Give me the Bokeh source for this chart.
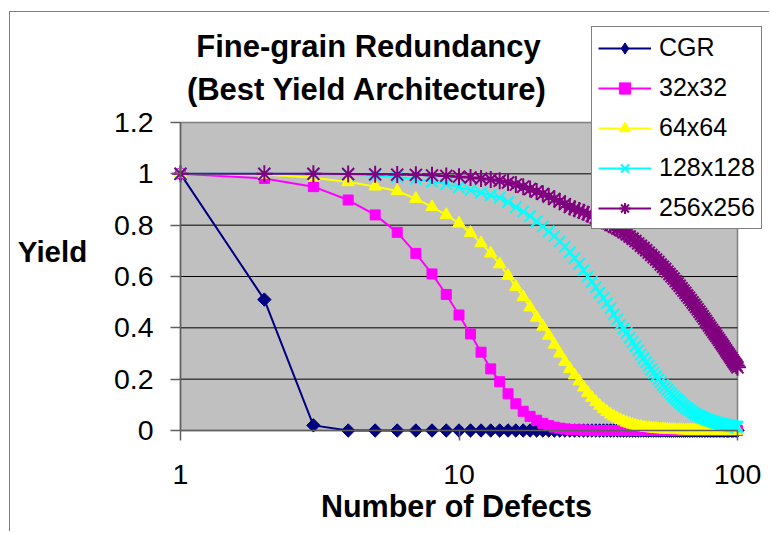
import math
from bokeh.plotting import figure
from bokeh.models import Range1d, FixedTicker, Label, Legend, LegendItem
from bokeh.embed import file_html
from bokeh.resources import INLINE

# ---------------- data ----------------
defects = list(range(1, 101))

cgr = [1.0, 0.51, 0.02, 0.0, 0.0, 0.0, 0.0, 0.0, 0.0, 0.0,
       0.0, 0.0, 0.0, 0.0, 0.0, 0.0, 0.0, 0.0, 0.0, 0.0,
       0.0, 0.0, 0.0, 0.0, 0.0, 0.0, 0.0, 0.0, 0.0, 0.0,
       0.0, 0.0, 0.0, 0.0, 0.0, 0.0, 0.0, 0.0, 0.0, 0.0,
       0.0, 0.0, 0.0, 0.0, 0.0, 0.0, 0.0, 0.0, 0.0, 0.0,
       0.0, 0.0, 0.0, 0.0, 0.0, 0.0, 0.0, 0.0, 0.0, 0.0,
       0.0, 0.0, 0.0, 0.0, 0.0, 0.0, 0.0, 0.0, 0.0, 0.0,
       0.0, 0.0, 0.0, 0.0, 0.0, 0.0, 0.0, 0.0, 0.0, 0.0,
       0.0, 0.0, 0.0, 0.0, 0.0, 0.0, 0.0, 0.0, 0.0, 0.0,
       0.0, 0.0, 0.0, 0.0, 0.0, 0.0, 0.0, 0.0, 0.0, 0.0]

r32 = [1.0, 0.982, 0.95, 0.898, 0.84, 0.772, 0.69, 0.61, 0.53, 0.45,
       0.376, 0.305, 0.24, 0.19, 0.143, 0.104, 0.075, 0.055, 0.04, 0.028,
       0.019, 0.013, 0.009, 0.006, 0.004, 0.003, 0.002, 0.001, 0.001, 0.0,
       0.0, 0.0, 0.0, 0.0, 0.0, 0.0, 0.0, 0.0, 0.0, 0.0,
       0.0, 0.0, 0.0, 0.0, 0.0, 0.0, 0.0, 0.0, 0.0, 0.0,
       0.0, 0.0, 0.0, 0.0, 0.0, 0.0, 0.0, 0.0, 0.0, 0.0,
       0.0, 0.0, 0.0, 0.0, 0.0, 0.0, 0.0, 0.0, 0.0, 0.0,
       0.0, 0.0, 0.0, 0.0, 0.0, 0.0, 0.0, 0.0, 0.0, 0.0,
       0.0, 0.0, 0.0, 0.0, 0.0, 0.0, 0.0, 0.0, 0.0, 0.0,
       0.0, 0.0, 0.0, 0.0, 0.0, 0.0, 0.0, 0.0, 0.0, 0.0]

r64 = [1.0, 0.997, 0.985, 0.968, 0.951, 0.933, 0.903, 0.871, 0.84, 0.807,
       0.77, 0.73, 0.69, 0.648, 0.603, 0.56, 0.52, 0.48, 0.44, 0.405,
       0.37, 0.335, 0.30, 0.268, 0.24, 0.215, 0.192, 0.168, 0.147, 0.128,
       0.111, 0.097, 0.084, 0.073, 0.063, 0.055, 0.048, 0.041, 0.036, 0.031,
       0.027, 0.023, 0.02, 0.017, 0.015, 0.013, 0.011, 0.01, 0.009, 0.008,
       0.007, 0.006, 0.005, 0.005, 0.004, 0.004, 0.003, 0.003, 0.003, 0.002,
       0.002, 0.002, 0.002, 0.001, 0.001, 0.001, 0.001, 0.001, 0.001, 0.001,
       0.0, 0.0, 0.0, 0.0, 0.0, 0.0, 0.0, 0.0, 0.0, 0.0,
       0.0, 0.0, 0.0, 0.0, 0.0, 0.0, 0.0, 0.0, 0.0, 0.0,
       0.0, 0.0, 0.0, 0.0, 0.0, 0.0, 0.0, 0.0, 0.0, 0.0]

r128 = [1.0, 1.0, 0.999, 0.997, 0.993, 0.988, 0.98, 0.97, 0.96, 0.948,
        0.937, 0.927, 0.917, 0.907, 0.89, 0.87, 0.853, 0.835, 0.815, 0.795,
        0.776, 0.757, 0.737, 0.716, 0.694, 0.672, 0.649, 0.625, 0.60, 0.579,
        0.558, 0.537, 0.516, 0.496, 0.476, 0.452, 0.433, 0.414, 0.397, 0.38,
        0.362, 0.345, 0.328, 0.312, 0.296, 0.281, 0.266, 0.252, 0.238, 0.225,
        0.212, 0.2, 0.189, 0.178, 0.168, 0.158, 0.149, 0.14, 0.132, 0.124,
        0.117, 0.11, 0.103, 0.097, 0.091, 0.086, 0.081, 0.076, 0.071, 0.067,
        0.063, 0.059, 0.056, 0.053, 0.05, 0.047, 0.044, 0.042, 0.04, 0.038,
        0.036, 0.034, 0.032, 0.031, 0.029, 0.028, 0.026, 0.025, 0.024, 0.023,
        0.022, 0.021, 0.02, 0.019, 0.018, 0.017, 0.016, 0.015, 0.015, 0.014]

r256 = [1.0, 1.0, 1.0, 0.999, 0.998, 0.997, 0.996, 0.994, 0.992, 0.989,
        0.986, 0.982, 0.978, 0.973, 0.966, 0.958, 0.95, 0.941, 0.931, 0.922,
        0.912, 0.902, 0.892, 0.882, 0.871, 0.864, 0.857, 0.85, 0.843, 0.836,
        0.829, 0.822, 0.815, 0.808, 0.801, 0.794, 0.787, 0.78, 0.772, 0.764,
        0.756, 0.747, 0.738, 0.729, 0.72, 0.711, 0.702, 0.693, 0.684, 0.675,
        0.666, 0.657, 0.647, 0.638, 0.629, 0.619, 0.61, 0.601, 0.592, 0.582,
        0.573, 0.564, 0.554, 0.545, 0.536, 0.526, 0.517, 0.508, 0.499, 0.49,
        0.481, 0.472, 0.463, 0.454, 0.445, 0.436, 0.427, 0.418, 0.409, 0.4,
        0.392, 0.384, 0.376, 0.368, 0.36, 0.352, 0.344, 0.336, 0.328, 0.32,
        0.312, 0.304, 0.297, 0.289, 0.282, 0.274, 0.267, 0.26, 0.253, 0.246]

series_names = ["CGR", "32x32", "64x64", "128x128", "256x256"]
series_values = [cgr, r32, r64, r128, r256]

x_ticks = [1, 10, 100]
x_tick_labels = ["1", "10", "100"]
y_ticks = [0, 0.2, 0.4, 0.6, 0.8, 1.0, 1.2]
y_tick_labels = ["0", "0.2", "0.4", "0.6", "0.8", "1", "1.2"]

title_lines = ["Fine-grain Redundancy", "(Best Yield Architecture)"]
x_title = "Number of Defects"
y_title = "Yield"

# ---------------- layout geometry (pixels inside the figure) ----------------
W, H = 760, 520
PL, PR, PT, PB = 170, 727, 110, 418          # plot-area edges
decades = math.log10(x_ticks[-1] / x_ticks[0])
y_span = y_ticks[-1] - y_ticks[0]


def xd(px):
    return x_ticks[0] * 10 ** ((px - PL) / (PR - PL) * decades)


def yd(py):
    return y_ticks[0] + (PB - py) / (PB - PT) * y_span


FONT = "Liberation Sans"
colors = ["#000080", "#FF00FF", "#FFFF00", "#00FFFF", "#800080"]
markers = ["square", "square", "triangle", "x", "asterisk"]
angles = [0.785398, 0.0, 0.0, 0.0, 0.0]
sizes = [9.5, 10, 12.5, 16, 17]

p = figure(width=W, height=H, x_axis_type="log",
           x_range=Range1d(xd(0), xd(W)), y_range=Range1d(yd(H), yd(0)),
           output_backend="svg", toolbar_location=None, title=None,
           min_border_left=0, min_border_right=0,
           min_border_top=0, min_border_bottom=0)
p.styles = {"border-left": "1px solid #7f7f7f", "border-top": "1px solid #7f7f7f",
            "margin-left": "9px", "margin-top": "11px"}

p.background_fill_color = "white"
p.border_fill_color = "white"
p.outline_line_color = None
p.xgrid.visible = False
p.ygrid.visible = False

# plot area (gray) with border, and horizontal gridlines
p.quad(left=[x_ticks[0]], right=[x_ticks[-1]], bottom=[y_ticks[0]], top=[y_ticks[-1]],
       fill_color="#C0C0C0", line_color="#808080", line_width=1.5)
grid_y = y_ticks[1:-1]
p.segment(x0=[x_ticks[0]] * len(grid_y), x1=[x_ticks[-1]] * len(grid_y),
          y0=grid_y, y1=grid_y, line_color="black", line_width=1)

items = []
for name, vals, col, mk, ang, sz in zip(series_names, series_values, colors, markers, angles, sizes):
    lr = p.line(defects, vals, line_color=col, line_width=2)
    sr = p.scatter(defects, vals, marker=mk, angle=ang, size=sz, fill_color=col,
                   line_color=col, line_width=2 if mk in ("x", "asterisk") else 1)
    if ang != 0.0:
        # legend markers are never rotated: a diamond stands in for the turned square
        sr = p.scatter(defects, vals, marker="diamond", size=0, fill_color=col,
                       line_color=col)
    items.append(LegendItem(label=name, renderers=[lr, sr]))

# axes fixed at the plot-area edges
for ax in (p.xaxis, p.yaxis):
    ax.axis_line_color = "#606060"
    ax.axis_line_width = 1.5
    ax.major_tick_line_color = "#606060"
    ax.major_tick_line_width = 1.5
    ax.major_tick_in = 0
    ax.major_tick_out = 10
    ax.minor_tick_line_color = None
    ax.major_label_text_font = FONT
    ax.major_label_text_font_size = "28.5px"
    ax.major_label_text_color = "black"

p.xaxis.fixed_location = y_ticks[0]
p.xaxis.bounds = (x_ticks[0], x_ticks[-1])
p.xaxis.ticker = FixedTicker(ticks=x_ticks)
p.xaxis.major_label_overrides = {t: l for t, l in zip(x_ticks, x_tick_labels)}
p.xaxis.major_label_standoff = 24

p.yaxis.fixed_location = x_ticks[0]
p.yaxis.bounds = (y_ticks[0], y_ticks[-1])
p.yaxis.ticker = FixedTicker(ticks=y_ticks)
p.yaxis.major_label_overrides = {t: l for t, l in zip(y_ticks, y_tick_labels)}
p.yaxis.major_label_standoff = 17

# texts
for txt, cx, by in zip(title_lines, [358, 356.7], [33.5, 77.2]):
    p.add_layout(Label(x=xd(cx), y=yd(by), text=txt, text_align="center",
                       text_baseline="alphabetic", text_font=FONT,
                       text_font_style="bold", text_font_size="31px",
                       text_color="black"))
p.add_layout(Label(x=xd(42), y=yd(238.8), text=y_title, text_align="center",
                   text_baseline="alphabetic", text_font=FONT,
                   text_font_style="bold", text_font_size="29.5px",
                   text_color="black"))
p.add_layout(Label(x=xd(446), y=yd(493.8), text=x_title, text_align="center",
                   text_baseline="alphabetic", text_font=FONT,
                   text_font_style="bold", text_font_size="30.5px",
                   text_color="black"))

# legend
lg = Legend(items=items, location=(581, H - 217))
lg.label_text_font = FONT
lg.label_text_font_size = "25px"
lg.label_text_color = "black"
lg.glyph_width = 53
lg.glyph_height = 28
lg.label_height = 28
lg.label_standoff = 8
lg.spacing = 11
lg.padding = 6
lg.margin = 0
lg.border_line_color = "black"
lg.border_line_width = 1
lg.background_fill_color = "white"
lg.background_fill_alpha = 1.0
p.add_layout(lg)

open("out.html", "w").write(file_html(p, INLINE))
